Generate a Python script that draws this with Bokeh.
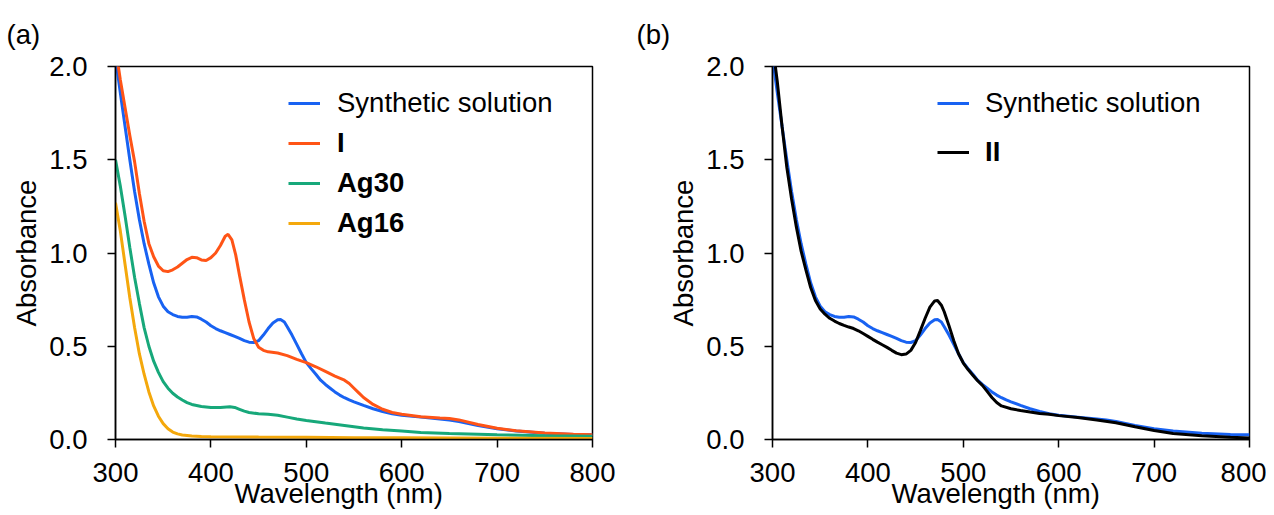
from bokeh.plotting import figure
from bokeh.layouts import row
from bokeh.models import Legend, LegendItem, Range1d, FixedTicker, Title, NumeralTickFormatter
from bokeh.embed import file_html
from bokeh.resources import INLINE

# ---------------- data ----------------
syn_wl = [300, 305, 310, 315, 320, 325, 330, 335, 340, 345, 350, 355, 360, 365, 370, 375, 380, 385,
          390, 395, 400, 405, 410, 415, 420, 425, 430, 435, 440, 445, 450, 455, 460, 465, 470, 473,
          477, 480, 485, 490, 495, 500, 505, 510, 515, 520, 525, 530, 535, 540, 545, 550, 560, 570,
          580, 590, 600, 620, 640, 650, 660, 680, 700, 720, 750, 780, 800]
syn_abs = [2.05, 1.86, 1.68, 1.50, 1.33, 1.18, 1.05, 0.94, 0.84, 0.765, 0.715, 0.685, 0.67, 0.66,
           0.655, 0.656, 0.66, 0.657, 0.645, 0.63, 0.61, 0.595, 0.583, 0.573, 0.563, 0.553, 0.542,
           0.53, 0.522, 0.52, 0.53, 0.56, 0.595, 0.625, 0.642, 0.643, 0.63, 0.605, 0.56, 0.51, 0.46,
           0.412, 0.38, 0.35, 0.318, 0.295, 0.275, 0.255, 0.238, 0.224, 0.212, 0.202, 0.183, 0.165,
           0.15, 0.138, 0.13, 0.12, 0.11, 0.105, 0.097, 0.075, 0.058, 0.045, 0.033, 0.027, 0.025]

i_wl = [300, 303, 305, 310, 315, 320, 325, 330, 335, 340, 345, 350, 355, 360, 365, 370, 375, 380,
        385, 390, 395, 400, 405, 410, 415, 418, 422, 426, 430, 435, 440, 445, 450, 455, 460, 470,
        480, 490, 500, 510, 520, 530, 540, 545, 550, 555, 560, 570, 580, 590, 600, 620, 640, 650,
        660, 680, 700, 720, 750, 780, 800]
i_abs = [2.1, 2.0, 1.93, 1.78, 1.63, 1.49, 1.32, 1.17, 1.05, 0.98, 0.93, 0.905, 0.9, 0.91, 0.925,
         0.945, 0.965, 0.977, 0.975, 0.963, 0.96, 0.975, 1.0, 1.04, 1.09, 1.10, 1.07, 0.99, 0.88,
         0.75, 0.63, 0.54, 0.495, 0.478, 0.47, 0.464, 0.45, 0.43, 0.412, 0.39, 0.365, 0.34, 0.318,
         0.30, 0.275, 0.25, 0.225, 0.188, 0.162, 0.145, 0.135, 0.122, 0.115, 0.113, 0.105, 0.08,
         0.06, 0.047, 0.035, 0.028, 0.025]

ag30_wl = [300, 305, 310, 315, 320, 325, 330, 335, 340, 345, 350, 355, 360, 365, 370, 375, 380, 390,
           400, 410, 420, 425, 430, 435, 440, 450, 460, 470, 480, 490, 500, 520, 540, 560, 580, 600,
           620, 650, 700, 750, 800]
ag30_abs = [1.50, 1.36, 1.20, 1.03, 0.87, 0.73, 0.60, 0.50, 0.42, 0.36, 0.31, 0.275, 0.248, 0.228,
            0.212, 0.198, 0.188, 0.177, 0.172, 0.172, 0.175, 0.172, 0.162, 0.152, 0.145, 0.138,
            0.135, 0.13, 0.12, 0.11, 0.102, 0.088, 0.075, 0.062, 0.052, 0.045, 0.038, 0.032, 0.025,
            0.02, 0.017]

ag16_wl = [300, 305, 310, 315, 320, 325, 330, 335, 340, 345, 350, 355, 360, 365, 370, 380, 390, 400,
           450, 500, 550, 600, 650, 700, 800]
ag16_abs = [1.27, 1.12, 0.94, 0.76, 0.60, 0.46, 0.35, 0.255, 0.18, 0.125, 0.085, 0.058, 0.04, 0.03,
            0.024, 0.019, 0.016, 0.015, 0.013, 0.012, 0.01, 0.009, 0.008, 0.007, 0.006]

ii_wl = [300, 303, 305, 310, 315, 320, 325, 330, 335, 340, 345, 350, 355, 360, 365, 370, 375, 380,
         385, 390, 395, 400, 405, 410, 415, 420, 425, 430, 435, 440, 445, 450, 455, 460, 465, 470,
         473, 477, 480, 485, 490, 495, 500, 505, 510, 515, 520, 525, 530, 535, 540, 550, 560, 570,
         580, 590, 600, 620, 640, 660, 680, 700, 720, 750, 780, 800]
ii_abs = [2.15, 2.0, 1.92, 1.68, 1.46, 1.29, 1.14, 1.01, 0.91, 0.815, 0.745, 0.70, 0.672, 0.65,
          0.635, 0.622, 0.612, 0.603, 0.595, 0.583, 0.568, 0.553, 0.537, 0.522, 0.508, 0.494, 0.478,
          0.463, 0.455, 0.458, 0.478, 0.52, 0.584, 0.65, 0.71, 0.743, 0.745, 0.72, 0.685, 0.61,
          0.53, 0.46, 0.41, 0.375, 0.345, 0.315, 0.29, 0.258, 0.225, 0.198, 0.18, 0.165, 0.155,
          0.147, 0.14, 0.135, 0.128, 0.118, 0.105, 0.09, 0.068, 0.048, 0.032, 0.02, 0.012, 0.008]

x_ticks = [300, 400, 500, 600, 700, 800]
y_ticks = [0.0, 0.5, 1.0, 1.5, 2.0]
x_title = "Wavelength (nm)"
y_title = "Absorbance"

BLUE = "#1862F2"
ORANGE = "#FF5416"
GREEN = "#17A87A"
YELLOW = "#F4A80C"
BLACK = "#000000"
FONT = "Liberation Sans"
FS = "27.5px"


def make_fig(left, right, label, title_offset):
    p = figure(frame_width=477, frame_height=373, output_backend="svg", toolbar_location=None,
               x_range=Range1d(300, 800), y_range=Range1d(0, 2),
               min_border_left=left, min_border_right=right, min_border_top=66,
               min_border_bottom=72)
    p.xgrid.visible = False
    p.ygrid.visible = False
    p.outline_line_color = "black"
    p.outline_line_width = 1.5
    p.background_fill_color = "white"
    p.border_fill_color = "white"
    for ax in (p.xaxis[0], p.yaxis[0]):
        ax.major_tick_out = 8
        ax.major_tick_in = 0
        ax.minor_tick_out = 0
        ax.minor_tick_in = 0
        ax.axis_line_width = 1.5
        ax.major_tick_line_width = 1.5
        ax.major_label_text_font = FONT
        ax.major_label_text_font_size = FS
        ax.major_label_text_color = "black"
        ax.axis_label_text_font = FONT
        ax.axis_label_text_font_size = FS
        ax.axis_label_text_font_style = "normal"
        ax.axis_label_text_color = "black"
    p.xaxis.ticker = FixedTicker(ticks=x_ticks)
    p.yaxis.ticker = FixedTicker(ticks=y_ticks)
    p.yaxis.formatter = NumeralTickFormatter(format="0.0")
    p.yaxis.axis_label = y_title
    p.xaxis.major_label_standoff = 15
    p.yaxis.major_label_standoff = 20
    p.yaxis.axis_label_standoff = 4
    t = Title(text=label, align="left", offset=title_offset, standoff=33,
              text_font=FONT, text_font_size=FS, text_font_style="normal", text_color="black")
    p.title = t
    # x-axis title, placed below the tick labels
    xt = Title(text=x_title, align="left", offset=119, standoff=-17,
               text_font=FONT, text_font_size=FS, text_font_style="normal", text_color="black")
    p.add_layout(xt, "below")
    return p


def add_legend(p, items, loc, bold, glyph_w, standoff):
    lg = Legend(items=items, location=loc, glyph_width=glyph_w, glyph_height=40,
                label_height=40, spacing=0, padding=0, margin=0, label_standoff=standoff,
                label_text_font=FONT, label_text_font_size=FS, label_text_color="black",
                label_text_font_style="bold" if bold else "normal",
                border_line_color=None, background_fill_alpha=0)
    p.add_layout(lg)


# ---------------- panel (a) ----------------
pa = make_fig(115, 44, "(a)", -109)
r_syn = pa.line(syn_wl, syn_abs, line_color=BLUE, line_width=3)
r_i = pa.line(i_wl, i_abs, line_color=ORANGE, line_width=3)
r_30 = pa.line(ag30_wl, ag30_abs, line_color=GREEN, line_width=3)
r_16 = pa.line(ag16_wl, ag16_abs, line_color=YELLOW, line_width=3)
add_legend(pa, [LegendItem(label="Synthetic solution", renderers=[r_syn])], (173, 316), False, 32, 17)
add_legend(pa, [LegendItem(label="I", renderers=[r_i]),
                LegendItem(label="Ag30", renderers=[r_30]),
                LegendItem(label="Ag16", renderers=[r_16])], (173, 196), True, 32, 17)

# ---------------- panel (b) ----------------
pb = make_fig(136, 17, "(b)", -136)
r_syn_b = pb.line(syn_wl, syn_abs, line_color=BLUE, line_width=3)
r_ii = pb.line(ii_wl, ii_abs, line_color=BLACK, line_width=3)
add_legend(pb, [LegendItem(label="Synthetic solution", renderers=[r_syn_b])], (165, 316), False, 32, 16)
add_legend(pb, [LegendItem(label="II", renderers=[r_ii])], (165, 267), True, 32, 16)

layout = row(pa, pb)
open("out.html", "w").write(file_html(layout, INLINE))
